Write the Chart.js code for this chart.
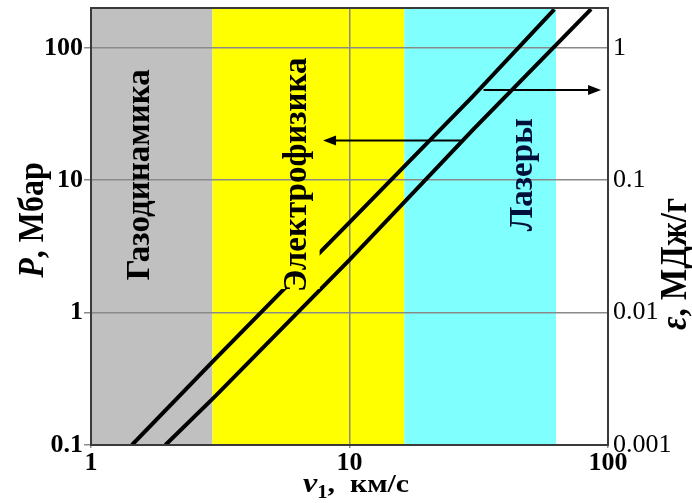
<!DOCTYPE html>
<html>
<head>
<meta charset="utf-8">
<script src="https://cdn.jsdelivr.net/npm/chart.js@4/dist/chart.umd.min.js"></script>
<style>html,body{margin:0;padding:0;background:#fff}</style>
</head>
<body>
<canvas id="chart" width="692" height="503"></canvas>
<script>
// values
const vPressure = [1.94, 3, 10, 30, 86];
const pressure = [0.1, 0.23, 2.5, 24, 196];
const vEnergy = [1.44, 3, 10, 30, 62];
const energy = [0.001, 0.0044, 0.048, 0.43, 1.95];

const xTicks = [1, 10, 100];
const pTicks = [0.1, 1, 10, 100];
const eTicks = [0.001, 0.01, 0.1, 1];

const bandEdges = [1, 2.95, 16.3, 63, 100];
const bandColors = ['#c0c0c0', '#ffff00', '#80ffff', '#ffffff'];
const bandNames = ['Газодинамика', 'Электрофизика', 'Лазеры'];
const bandLabelV = [1.56, 6.3, 47];
const bandLabelP = 11;

// arrows: from v, to v, at value
const arrowP = [27, 7.9, 20];
const arrowE = [33, 94, 0.48];

const SERIF = '"Liberation Serif", "Times New Roman", serif';
const BAND_FONT = 'bold 33px ' + SERIF;

function textBox(chart) {
  const x = chart.scales.x, y = chart.scales.y;
  const cx = x.getPixelForValue(bandLabelV[1]);
  const cy = y.getPixelForValue(bandLabelP);
  const ctx = chart.ctx;
  ctx.font = BAND_FONT;
  const len = ctx.measureText(bandNames[1]).width;
  return { left: cx - 18, top: cy - len / 2 - 4, w: 40, h: len + 1 };
}

function drawArrow(ctx, x1, x2, y) {
  const dir = x2 > x1 ? 1 : -1;
  ctx.strokeStyle = '#000';
  ctx.fillStyle = '#000';
  ctx.lineWidth = 2;
  ctx.beginPath();
  ctx.moveTo(x1, y);
  ctx.lineTo(x2 - dir * 8, y);
  ctx.stroke();
  ctx.beginPath();
  ctx.moveTo(x2, y);
  ctx.lineTo(x2 - dir * 13, y - 5);
  ctx.lineTo(x2 - dir * 13, y + 5);
  ctx.closePath();
  ctx.fill();
}

// rotated title with an italic first symbol
function sideTitle(ctx, cx, cy, sym, rest, size) {
  ctx.save();
  ctx.translate(cx, cy);
  ctx.rotate(-Math.PI / 2);
  ctx.scale(1, 1.15);
  ctx.font = 'italic bold ' + size + 'px ' + SERIF;
  const w1 = ctx.measureText(sym).width;
  ctx.font = 'bold ' + size + 'px ' + SERIF;
  const w2 = ctx.measureText(rest).width;
  const sx = -(w1 + w2) / 2;
  ctx.font = 'italic bold ' + size + 'px ' + SERIF;
  ctx.fillText(sym, sx, 0);
  ctx.font = 'bold ' + size + 'px ' + SERIF;
  ctx.fillText(rest, sx + w1, 0);
  ctx.restore();
}

const decor = {
  id: 'decor',
  beforeDraw(chart) {
    const ctx = chart.ctx, a = chart.chartArea, x = chart.scales.x;
    ctx.save();
    for (let i = 0; i < bandColors.length; i++) {
      const l = x.getPixelForValue(bandEdges[i]);
      const r = x.getPixelForValue(bandEdges[i + 1]);
      ctx.fillStyle = bandColors[i];
      ctx.fillRect(l, a.top, r - l, a.bottom - a.top);
    }
    ctx.restore();
  },
  beforeDatasetsDraw(chart) {
    // the label in the yellow band hides the curve behind it
    const ctx = chart.ctx, b = textBox(chart);
    ctx.save();
    ctx.beginPath();
    ctx.rect(0, 0, chart.width, chart.height);
    ctx.rect(b.left, b.top, b.w, b.h);
    ctx.clip('evenodd');
  },
  afterDatasetsDraw(chart) {
    const ctx = chart.ctx;
    ctx.restore();
    const x = chart.scales.x, y = chart.scales.y, y2 = chart.scales.y2;
    const a = chart.chartArea;

    drawArrow(ctx, x.getPixelForValue(arrowP[0]), x.getPixelForValue(arrowP[1]), y.getPixelForValue(arrowP[2]));
    drawArrow(ctx, x.getPixelForValue(arrowE[0]), x.getPixelForValue(arrowE[1]), y2.getPixelForValue(arrowE[2]));

    // band labels
    const colors = ['#000', '#000', '#00103a'];
    ctx.save();
    ctx.textAlign = 'center';
    ctx.textBaseline = 'middle';
    ctx.font = BAND_FONT;
    for (let i = 0; i < bandNames.length; i++) {
      ctx.save();
      ctx.translate(x.getPixelForValue(bandLabelV[i]), y.getPixelForValue(bandLabelP));
      ctx.rotate(-Math.PI / 2);
      ctx.fillStyle = colors[i];
      ctx.fillText(bandNames[i], 0, 0);
      ctx.restore();
    }
    ctx.restore();

    // axis titles
    ctx.save();
    ctx.fillStyle = '#000';
    ctx.textBaseline = 'alphabetic';
    sideTitle(ctx, 43, 220, 'P', ', Мбар', 32);
    sideTitle(ctx, 686, 264, 'ε', ', МДж/г', 33);

    ctx.save();
    ctx.translate(356, 492);
    ctx.scale(1.15, 1);
    ctx.font = 'italic bold 28px ' + SERIF;
    const wV = ctx.measureText('v').width;
    ctx.font = 'bold 18px ' + SERIF;
    const wSub = ctx.measureText('1').width;
    ctx.font = 'bold 26px ' + SERIF;
    const wK = ctx.measureText(',  км/с').width;
    const sx = -(wV + wSub + wK) / 2;
    ctx.font = 'italic bold 28px ' + SERIF;
    ctx.fillText('v', sx, 0);
    ctx.font = 'bold 18px ' + SERIF;
    ctx.fillText('1', sx + wV, 6);
    ctx.font = 'bold 26px ' + SERIF;
    ctx.fillText(',  км/с', sx + wV + wSub, 0);
    ctx.restore();
    ctx.restore();

    // frame
    ctx.save();
    ctx.strokeStyle = '#3a3a3a';
    ctx.lineWidth = 2;
    ctx.strokeRect(a.left, a.top, a.right - a.left, a.bottom - a.top);
    ctx.restore();
  }
};

function fixWidth(w) {
  return function (scale) {
    scale.width = w;
    scale.paddingTop = 0;
    scale.paddingBottom = 0;
  };
}

new Chart(document.getElementById('chart'), {
  type: 'line',
  data: {
    datasets: [
      {
        label: 'P',
        data: vPressure.map((v, i) => ({ x: v, y: pressure[i] })),
        yAxisID: 'y',
        borderColor: '#000',
        borderWidth: 4,
        pointRadius: 0,
        tension: 0
      },
      {
        label: 'eps',
        data: vEnergy.map((v, i) => ({ x: v, y: energy[i] })),
        yAxisID: 'y2',
        borderColor: '#000',
        borderWidth: 4,
        pointRadius: 0,
        tension: 0
      }
    ]
  },
  options: {
    responsive: false,
    devicePixelRatio: 1,
    animation: false,
    layout: { padding: { top: 8, left: 0, right: 0, bottom: 0 } },
    plugins: { legend: { display: false }, tooltip: { enabled: false } },
    scales: {
      x: {
        type: 'logarithmic',
        min: 1,
        max: 100,
        afterBuildTicks: s => { s.ticks = xTicks.map(v => ({ value: v })); },
        afterFit: s => { s.height = 58; s.paddingLeft = 0; s.paddingRight = 0; },
        ticks: {
          autoSkip: false,
          maxRotation: 0,
          padding: 0,
          color: '#000',
          font: { family: SERIF, size: 26, weight: 'bold' },
          callback: v => String(v)
        },
        grid: { color: '#8a8a8a', lineWidth: 1.5, tickLength: 3 },
        border: { display: false }
      },
      y: {
        type: 'logarithmic',
        position: 'left',
        min: 0.1,
        max: 200,
        afterBuildTicks: s => { s.ticks = pTicks.map(v => ({ value: v })); },
        afterFit: fixWidth(91),
        ticks: {
          autoSkip: false,
          padding: 1,
          color: '#000',
          font: { family: SERIF, size: 26, weight: 'bold' },
          callback: v => String(v)
        },
        grid: { color: '#8a8a8a', lineWidth: 1.5, tickLength: 7 },
        border: { display: false }
      },
      y2: {
        type: 'logarithmic',
        position: 'right',
        min: 0.001,
        max: 2,
        afterBuildTicks: s => { s.ticks = eTicks.map(v => ({ value: v })); },
        afterFit: fixWidth(84),
        ticks: {
          autoSkip: false,
          padding: 5,
          color: '#000',
          font: { family: SERIF, size: 26 },
          callback: v => String(v)
        },
        grid: { display: false, drawTicks: false, tickLength: 0 },
        border: { display: false }
      }
    }
  },
  plugins: [decor]
});
</script>
</body>
</html>
